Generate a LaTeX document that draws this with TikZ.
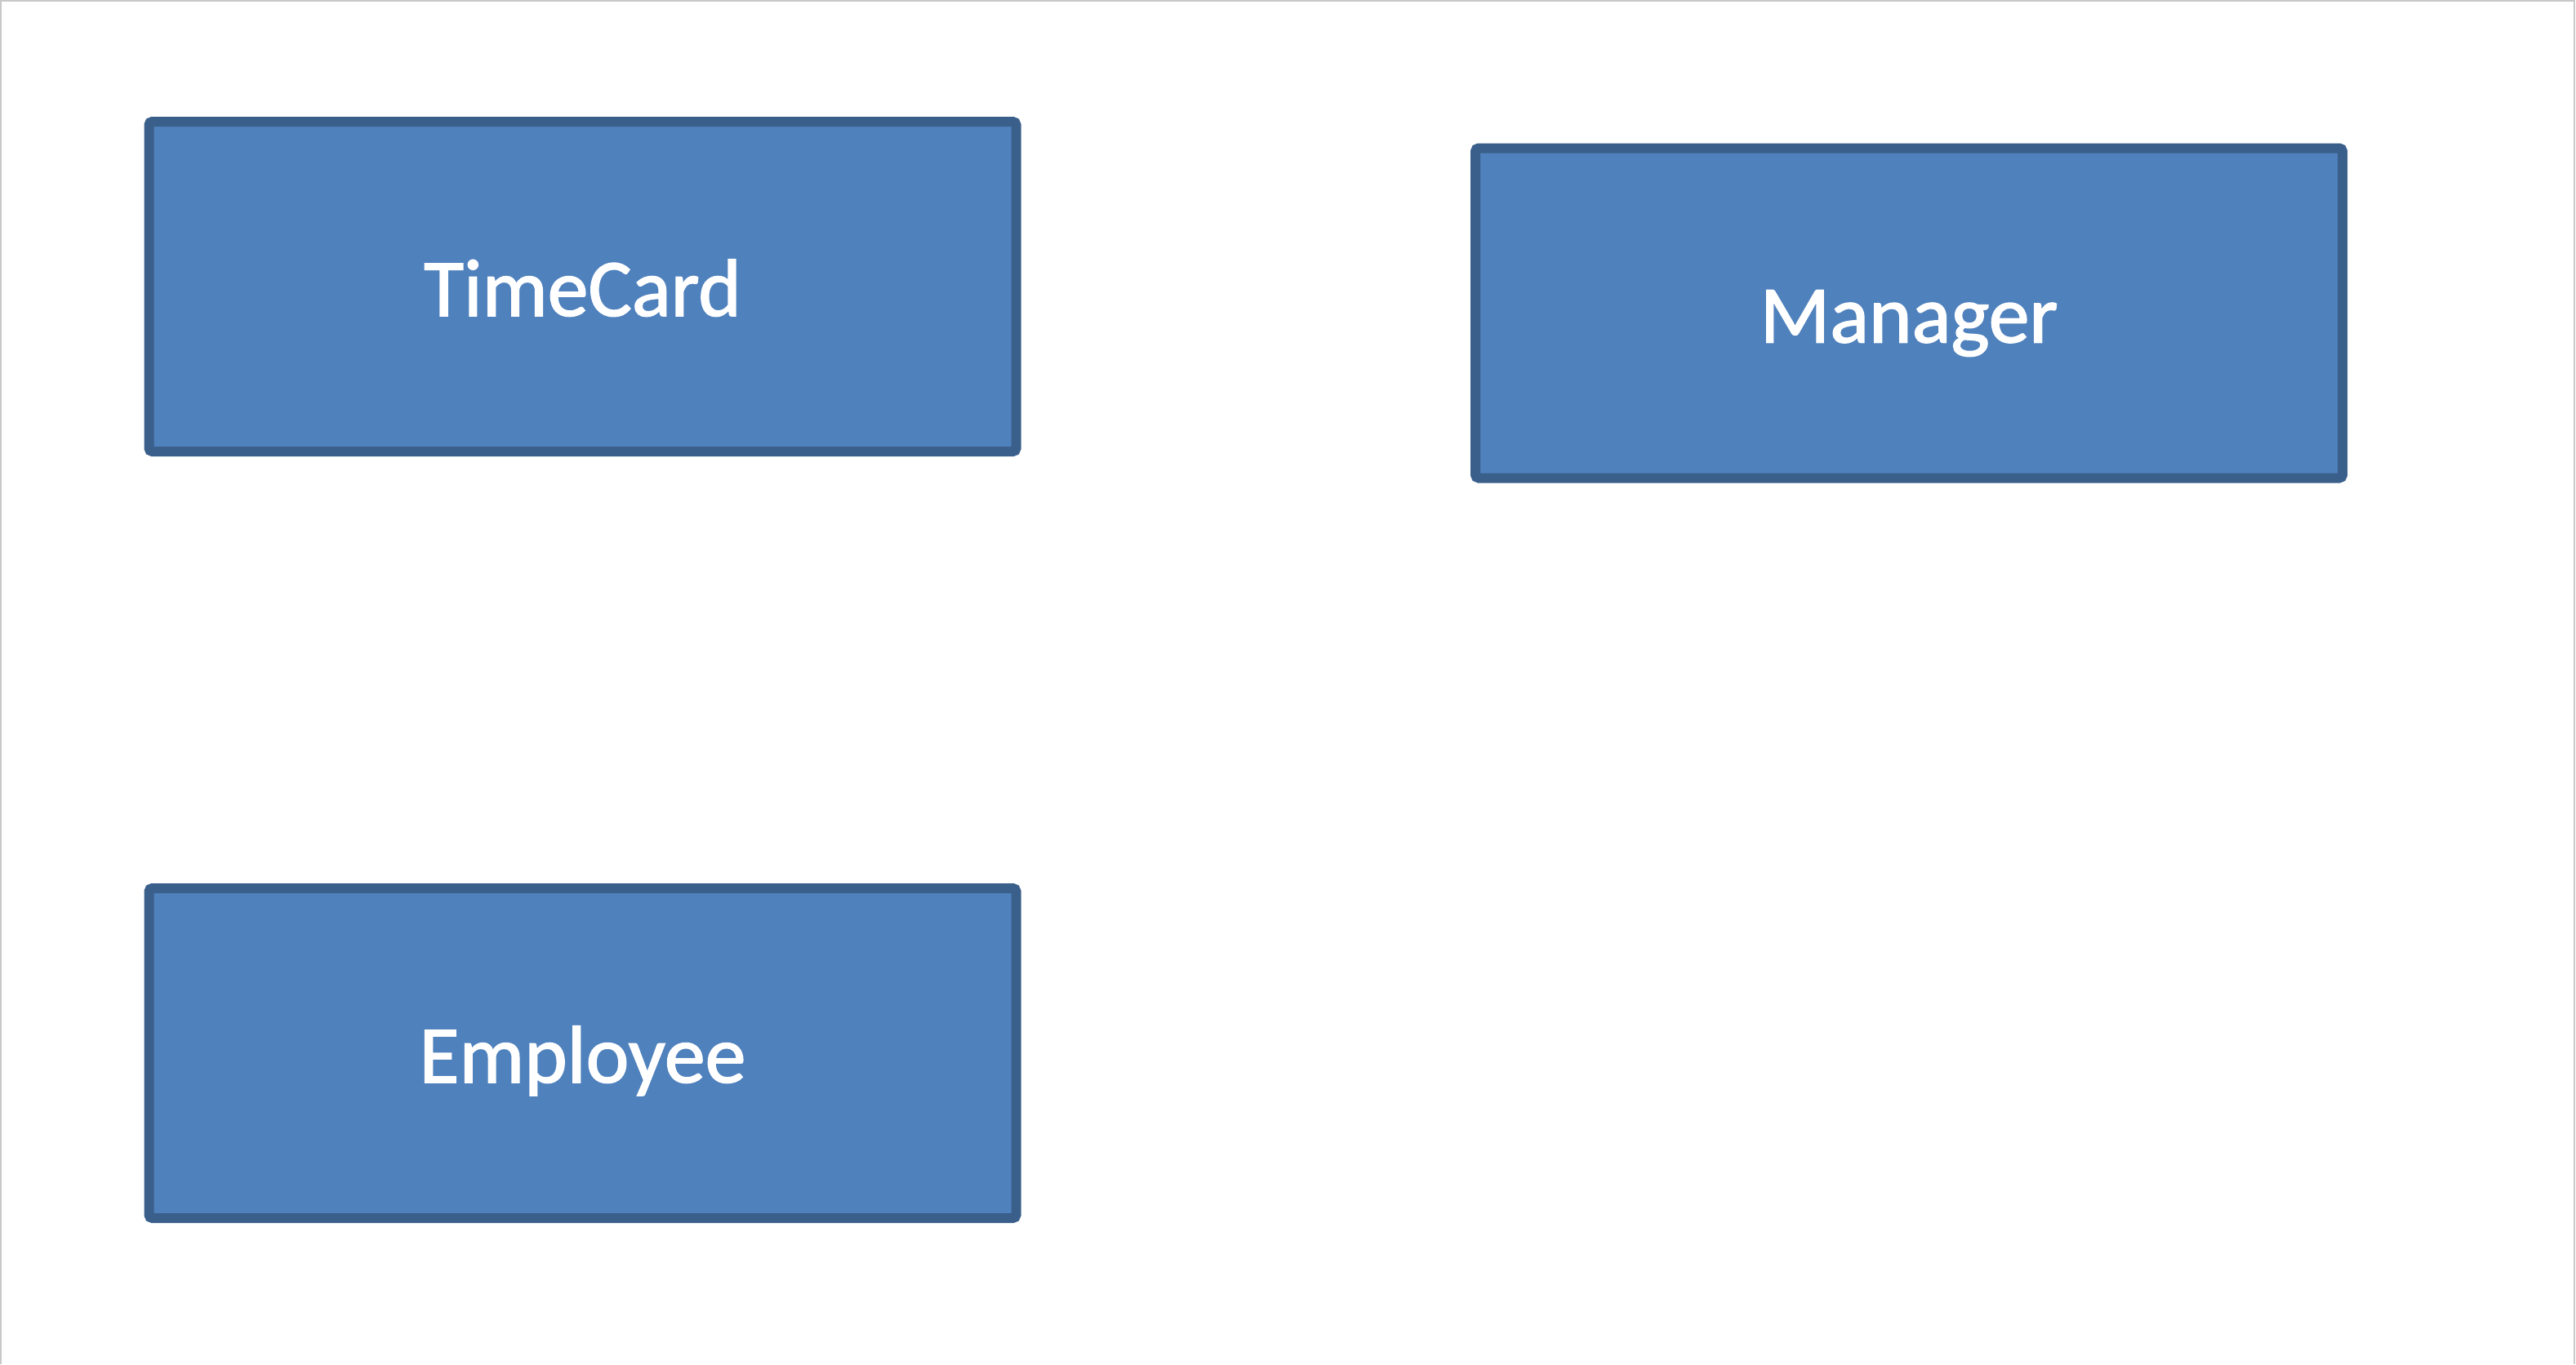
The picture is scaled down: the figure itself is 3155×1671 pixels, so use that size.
\documentclass[tikz,border=0pt]{standalone}
\usepackage{fontspec}
\setmainfont{Carlito}
\newfontfamily\boxfont[FakeBold=1.5]{Carlito}
\definecolor{boxfill}{HTML}{4F81BD}
\definecolor{boxline}{HTML}{3A5F8B}
\definecolor{frame}{HTML}{C8C8C8}
\tikzset{
  entity/.style={shape=rectangle, draw=boxline, fill=boxfill, line width=3pt,
    rounded corners=1pt, minimum width=265.5pt, minimum height=101pt,
    text=white, font=\boxfont\fontsize{25}{30}\selectfont, inner sep=0pt,
    text height=18pt, text depth=0pt}
}
\begin{document}
\begin{tikzpicture}[x=0.25pt, y=-0.25pt]
            \useasboundingbox (0,0) rectangle (3155,1671);
            \draw[frame, line width=0.5pt] (1,1671) -- (1,1) -- (3153,1) -- (3153,1671);

            \node[entity] (timecard) at (713.5, 351) {TimeCard};
            \node[entity] (manager) at (2338, 383.5) {Manager};
            \node[entity] (employee) at (713.5, 1290) {Employee};
        \end{tikzpicture}
\end{document}
